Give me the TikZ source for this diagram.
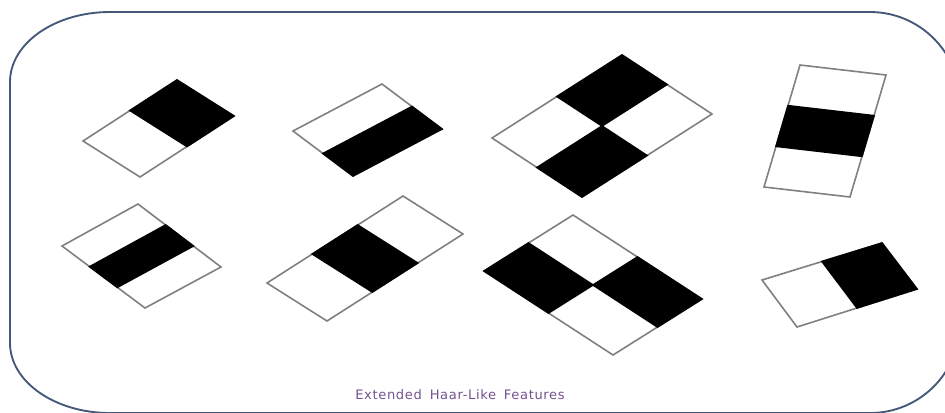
\documentclass[tikz,border=0pt]{standalone}
\usepackage{fontspec}
\newfontfamily\captionfont[LetterSpace=5]{DejaVu Sans}
\usetikzlibrary{calc}
\definecolor{framecol}{HTML}{44597A}
\definecolor{captioncol}{HTML}{74528F}
\definecolor{edgecol}{HTML}{808080}

\begin{document}
\begin{tikzpicture}[x=0.75pt, y=-0.75pt,
    cell/.style={draw=edgecol, line width=1.2pt, fill=white},
    dark/.style={draw=black, line width=1.2pt, fill=black},
    frame/.style={draw=framecol, line width=1.4pt}]
  \useasboundingbox (0,0) rectangle (945,412);

  % outer frame
  \draw[frame] (110,12) -- (870,12) .. controls (919.7,12) and (960,52.3) .. (960,102)
    -- (960,323) .. controls (960,372.7) and (919.7,413) .. (870,413)
    -- (110,413) .. controls (54.8,413) and (10,381.7) .. (10,343)
    -- (10,82) .. controls (10,43.3) and (54.8,12) .. (110,12) -- cycle;

  % top row
  \coordinate (al) at (83,141);  \coordinate (at) at (177,80);
  \coordinate (ar) at (234,116); \coordinate (ab) at (140,177);
  \draw[cell] (al) -- (at) -- (ar) -- (ab) -- cycle;
  \draw[dark] ($(al)!0.5!(at)$) -- (at) -- (ar) -- ($(ab)!0.5!(ar)$) -- cycle;

  \coordinate (bl) at (293,131); \coordinate (bt) at (382,84);
  \coordinate (br) at (442,129); \coordinate (bb) at (353,176);
  \draw[cell] (bl) -- (bt) -- (br) -- (bb) -- cycle;
  \draw[dark] ($(bl)!0.5!(bb)$) -- ($(bt)!0.5!(br)$) -- (br) -- (bb) -- cycle;

  \coordinate (cl) at (492,138); \coordinate (ct) at (622,55);
  \coordinate (cr) at (712,114); \coordinate (cb) at (582,197);
  \coordinate (cm) at ($(cl)!0.5!(cr)$);
  \draw[cell] (cl) -- (ct) -- (cr) -- (cb) -- cycle;
  \draw[dark] ($(cl)!0.5!(ct)$) -- (ct) -- ($(ct)!0.5!(cr)$) -- (cm) -- cycle;
  \draw[dark] (cm) -- ($(cr)!0.5!(cb)$) -- (cb) -- ($(cb)!0.5!(cl)$) -- cycle;

  \coordinate (da) at (800,65);  \coordinate (db) at (886,75);
  \coordinate (dc) at (850,197); \coordinate (dd) at (764,187);
  \draw[cell] (da) -- (db) -- (dc) -- (dd) -- cycle;
  \draw[dark] ($(da)!1/3!(dd)$) -- ($(db)!1/3!(dc)$) -- ($(db)!2/3!(dc)$) -- ($(da)!2/3!(dd)$) -- cycle;

  % bottom row
  \coordinate (el) at (62,246);  \coordinate (et) at (138,204);
  \coordinate (er) at (221,267); \coordinate (eb) at (145,308);
  \draw[cell] (el) -- (et) -- (er) -- (eb) -- cycle;
  \draw[dark] ($(el)!1/3!(eb)$) -- ($(et)!1/3!(er)$) -- ($(et)!2/3!(er)$) -- ($(el)!2/3!(eb)$) -- cycle;

  \coordinate (fl) at (267,283); \coordinate (ft) at (403,196);
  \coordinate (fr) at (463,234); \coordinate (fb) at (327,321);
  \draw[cell] (fl) -- (ft) -- (fr) -- (fb) -- cycle;
  \draw[dark] ($(fl)!1/3!(ft)$) -- ($(fl)!2/3!(ft)$) -- ($(fb)!2/3!(fr)$) -- ($(fb)!1/3!(fr)$) -- cycle;

  \coordinate (gl) at (484,271); \coordinate (gt) at (573,215);
  \coordinate (gr) at (702,299); \coordinate (gb) at (613,355);
  \coordinate (gm) at ($(gt)!0.5!(gb)$);
  \draw[cell] (gl) -- (gt) -- (gr) -- (gb) -- cycle;
  \draw[dark] ($(gt)!0.5!(gl)$) -- (gl) -- ($(gl)!0.5!(gb)$) -- (gm) -- cycle;
  \draw[dark] ($(gt)!0.5!(gr)$) -- (gr) -- ($(gr)!0.5!(gb)$) -- (gm) -- cycle;

  \coordinate (ha) at (762,280); \coordinate (hb) at (882,243);
  \coordinate (hc) at (917,289); \coordinate (hd) at (797,327);
  \draw[cell] (ha) -- (hb) -- (hc) -- (hd) -- cycle;
  \draw[dark] ($(ha)!0.5!(hb)$) -- (hb) -- (hc) -- ($(hd)!0.5!(hc)$) -- cycle;

  \node[text=captioncol, font=\captionfont\fontsize{9.8}{12}\selectfont] (caption) at (460,395)
    {Extended\hspace{0.6em}Haar-Like\hspace{0.6em}Features};
\end{tikzpicture}
\end{document}
